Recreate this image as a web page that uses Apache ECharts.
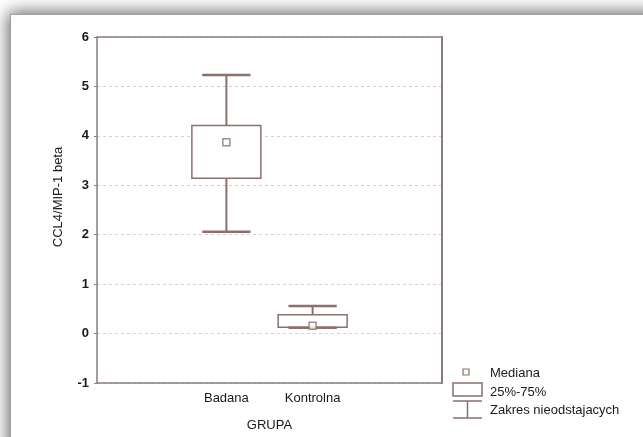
<!DOCTYPE html>
<html><head><meta charset="utf-8">
<script src="https://cdn.jsdelivr.net/npm/echarts@6/dist/echarts.min.js"></script>
<style>
html,body{margin:0;padding:0;background:#fff;overflow:hidden}
#frame{position:absolute;left:10px;top:14px;width:700px;height:500px;background:#fff;border-left:1px solid #a0a0a0;border-top:1px solid #a0a0a0;box-shadow:0 0 16px 2px rgba(0,0,0,0.6)}
#chart{position:absolute;left:0;top:0;width:643px;height:437px}
</style></head><body>
<div id="frame"></div><div id="chart"></div>
<script>
const categories = ['', 'Badana', 'Kontrolna', ''];
const groups = ['Badana', 'Kontrolna'];
const whiskerLow = [2.06, 0.12];
const q1 = [3.14, 0.13];
const median = [3.87, 0.16];
const q3 = [4.21, 0.38];
const whiskerHigh = [5.23, 0.56];
const yMin = -1, yMax = 6, yStep = 1;
const yTitle = 'CCL4/MIP-1 beta';
const xTitle = 'GRUPA';
const legendLabels = ['Mediana', '25%-75%', 'Zakres nieodstajacych'];

const MARK = '#8d6f6d';
const AXIS = '#8a7d7b';
const TEXT = '#1f1818';
const FONT = 'Liberation Sans, Arial, sans-serif';

const boxData = groups.map((g, i) => [categories.indexOf(g), whiskerLow[i], q1[i], median[i], q3[i], whiskerHigh[i]]);
const medData = groups.map((g, i) => [g, median[i]]);

const chart = echarts.init(document.getElementById('chart'));
chart.setOption({
  animation: false,
  grid: {left: 97, top: 37, right: 201, bottom: 50},
  xAxis: [{
    type: 'category', data: categories, position: 'bottom',
    axisLine: {onZero: false, lineStyle: {color: AXIS, width: 1.5}},
    axisTick: {inside: true, length: 3, alignWithLabel: true, lineStyle: {color: AXIS, width: 1.5}},
    axisLabel: {interval: 0, margin: 9, color: TEXT, fontSize: 13, fontFamily: FONT},
    splitLine: {show: false},
    name: xTitle, nameLocation: 'middle', nameGap: 36,
    nameTextStyle: {color: TEXT, fontSize: 13, fontFamily: FONT}
  }, {
    type: 'category', data: categories, position: 'top',
    axisLine: {onZero: false, lineStyle: {color: AXIS, width: 1.5}},
    axisTick: {inside: true, length: 3, alignWithLabel: true, lineStyle: {color: AXIS, width: 1.5}},
    axisLabel: {show: false}
  }],
  yAxis: [{
    type: 'value', min: yMin, max: yMax, interval: yStep,
    axisLine: {show: true, onZero: false, lineStyle: {color: AXIS, width: 1.5}},
    axisTick: {show: true, inside: false, length: 3, lineStyle: {color: AXIS}},
    axisLabel: {margin: 8, color: TEXT, fontSize: 13, fontWeight: 'bold', fontFamily: FONT},
    splitLine: {show: true, lineStyle: {color: '#d2d2d2', type: [3, 3], width: 1}}
  }, {
    type: 'value', min: yMin, max: yMax, interval: yStep, position: 'right',
    axisLine: {show: true, onZero: false, lineStyle: {color: AXIS, width: 2}},
    axisTick: {show: false}, axisLabel: {show: false}, splitLine: {show: false}
  }],
  series: [{
    type: 'custom',
    data: boxData,
    renderItem: function (params, api) {
      const x = api.value(0);
      const band = api.size([1, 0])[0];
      const boxW = band * 0.8, capW = band * 0.56;
      const lo = api.coord([x, api.value(1)]);
      const b1 = api.coord([x, api.value(2)]);
      const b3 = api.coord([x, api.value(4)]);
      const hi = api.coord([x, api.value(5)]);
      const cx = lo[0];
      const ln = (x1, y1, x2, y2, w) => ({type: 'line', shape: {x1, y1, x2, y2}, style: {stroke: MARK, lineWidth: w}});
      return {type: 'group', children: [
        ln(cx, hi[1], cx, b3[1], 2),
        ln(cx, b1[1], cx, lo[1], 2),
        {type: 'rect', shape: {x: cx - boxW / 2, y: b3[1], width: boxW, height: b1[1] - b3[1]},
         style: {fill: '#fff', stroke: MARK, lineWidth: 1.5}},
        ln(cx - capW / 2, hi[1], cx + capW / 2, hi[1], 2.5),
        ln(cx - capW / 2, lo[1], cx + capW / 2, lo[1], 2.5)
      ]};
    },
    z: 2
  }, {
    type: 'scatter',
    data: medData,
    symbol: 'rect', symbolSize: 7,
    itemStyle: {color: '#fff', borderColor: MARK, borderWidth: 1.5},
    z: 3
  }],
  graphic: [
    {type: 'text', x: 58, y: 197, rotation: Math.PI / 2,
     style: {text: yTitle, align: 'center', verticalAlign: 'middle', fill: TEXT, font: '13px ' + FONT}},
    {type: 'rect', shape: {x: 463, y: 369, width: 6, height: 6}, style: {fill: '#fff', stroke: MARK, lineWidth: 1.2}},
    {type: 'rect', shape: {x: 453, y: 383, width: 29, height: 13}, style: {fill: '#fff', stroke: MARK, lineWidth: 1.5}},
    {type: 'line', shape: {x1: 453, y1: 401, x2: 482, y2: 401}, style: {stroke: MARK, lineWidth: 1.5}},
    {type: 'line', shape: {x1: 467.5, y1: 401, x2: 467.5, y2: 418}, style: {stroke: MARK, lineWidth: 1.5}},
    {type: 'line', shape: {x1: 453, y1: 418, x2: 482, y2: 418}, style: {stroke: MARK, lineWidth: 1.5}},
    {type: 'text', x: 490, y: 373, style: {text: legendLabels[0], verticalAlign: 'middle', fill: TEXT, font: '13px ' + FONT}},
    {type: 'text', x: 490, y: 392, style: {text: legendLabels[1], verticalAlign: 'middle', fill: TEXT, font: '13px ' + FONT}},
    {type: 'text', x: 490, y: 410, style: {text: legendLabels[2], verticalAlign: 'middle', fill: TEXT, font: '13px ' + FONT}}
  ]
});
</script></body></html>
